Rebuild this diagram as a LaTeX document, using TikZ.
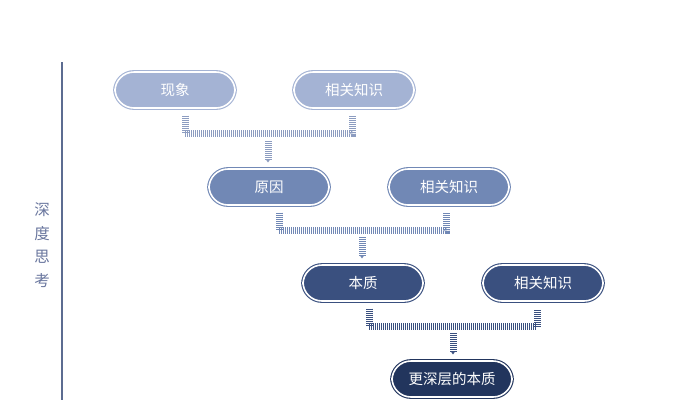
\documentclass[tikz,border=0pt]{standalone}
\usepackage{fontspec}
\setmainfont{Noto Sans CJK SC}
\usetikzlibrary{calc,arrows.meta}
\definecolor{cA}{RGB}{164,179,212}
\definecolor{cB}{RGB}{113,136,181}
\definecolor{cC}{RGB}{58,80,127}
\definecolor{cD}{RGB}{34,53,93}
\definecolor{lA}{RGB}{140,156,192}
\definecolor{axis}{RGB}{92,108,145}
\definecolor{sidetxt}{RGB}{105,118,158}
\tikzset{
  box/.style={rectangle, rounded corners=19pt, minimum width=120pt, minimum height=36pt,
    fill=#1, draw=#1, line width=1.1pt, double=white, double distance=1.6pt,
    text=white, font=\fontsize{14.5}{17}\selectfont, inner sep=0pt},
  link/.style={draw=#1, line width=7pt, dash pattern=on 1pt off 1pt},
  arr/.style={draw=#1, line width=7pt, dash pattern=on 1pt off 1pt, -{Triangle[width=4pt,length=3pt]}}
}
\begin{document}
\begin{tikzpicture}[x=1pt,y=-1pt]
\useasboundingbox (0,0) rectangle (676,400);
\fill[white] (0,0) rectangle (676,400);
% side axis
\coordinate (axtop) at (62,62);
\coordinate (axbot) at (62,400);
\draw[axis, line width=1.3pt] (axtop) -- (axbot);
\node[text=sidetxt, font=\fontsize{15.5}{23.7}\selectfont, align=center, inner sep=0pt] (side) at (42,245) {深\\度\\思\\考};
% nodes
\node[box=cA] (n1) at (175,90) {现象};
\node[box=cA] (k1) at (354,90) {相关知识};
\node[box=cB] (n2) at (269,187) {原因};
\node[box=cB] (k2) at (449,187) {相关知识};
\node[box=cC] (n3) at (363,283) {本质};
\node[box=cC] (k3) at (543,283) {相关知识};
\node[box=cD] (n4) at (452,379) {更深层的本质};
% connectors row 1
\coordinate (a1) at ($(n1.south)+(10,7)$);
\coordinate (b1) at ($(k1.south)+(-2,7)$);
\draw[link=lA] (a1) -- ($(a1)+(0,18)$) -| (b1);
\coordinate (m1) at (268,141);
\draw[arr=lA] (m1) -- ($(n2.north)+(-1,-6)$);
% connectors row 2
\coordinate (a2) at ($(n2.south)+(10,7)$);
\coordinate (b2) at ($(k2.south)+(-3,7)$);
\draw[link=cB] (a2) -- ($(a2)+(0,18)$) -| (b2);
\coordinate (m2) at (362,237);
\draw[arr=cB] (m2) -- ($(n3.north)+(-1,-6)$);
% connectors row 3
\coordinate (a3) at ($(n3.south)+(6,7)$);
\coordinate (b3) at ($(k3.south)+(-6,7)$);
\draw[link=cC] (a3) -- ($(a3)+(0,18)$) -| (b3);
\coordinate (m3) at (453,333);
\draw[arr=cC] (m3) -- ($(n4.north)+(1,-6)$);
\end{tikzpicture}
\end{document}
